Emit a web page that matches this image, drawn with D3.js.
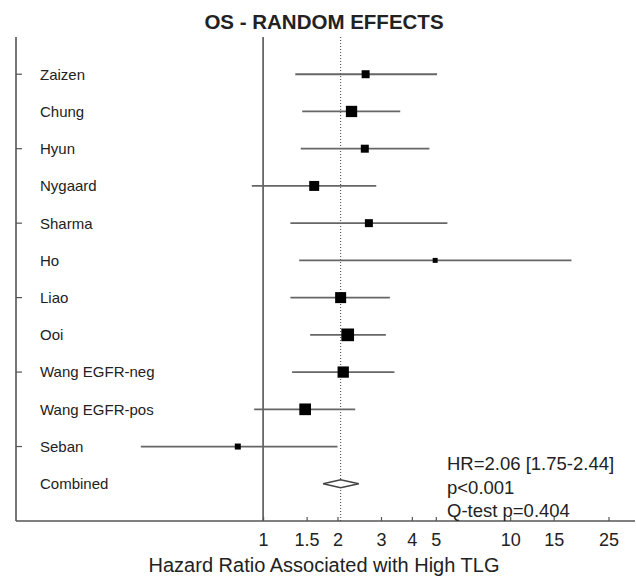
<!DOCTYPE html>
<html>
<head>
<meta charset="utf-8">
<script src="https://cdn.jsdelivr.net/npm/d3@7"></script>
<style>
  body { margin: 0; background: #fff; }
  text { font-family: "Liberation Sans", Arial, sans-serif; fill: #222; }
</style>
</head>
<body>
<div id="graph"></div>
<script>
// study data
const studies = ["Zaizen", "Chung", "Hyun", "Nygaard", "Sharma", "Ho", "Liao", "Ooi",
                 "Wang EGFR-neg", "Wang EGFR-pos", "Seban"]
const hr    = [2.60, 2.28, 2.58, 1.61, 2.68, 4.97, 2.06, 2.20, 2.11, 1.48, 0.79]
const lower = [1.35, 1.44, 1.42, 0.90, 1.29, 1.40, 1.29, 1.55, 1.31, 0.92, 0.32]
const upper = [5.06, 3.59, 4.71, 2.87, 5.57, 17.7, 3.26, 3.14, 3.40, 2.36, 2.00]
const weights = [6.2, 12.4, 6.2, 9.7, 6.2, 2.4, 11.8, 15.7, 12.4, 13.3, 3.5]

const combinedLabel = "Combined"
const combined = [2.06, 1.75, 2.44]   // hr, lower, upper

const xTicks = [1, 1.5, 2, 3, 4, 5, 10, 15, 25]
const notes = ["HR=2.06 [1.75-2.44]", "p<0.001", "Q-test p=0.404"]

const WIDTH = 636, HEIGHT = 583
const plot = {left: 16, right: 635, top: 37, bottom: 521}

let svg = d3.select("div#graph")
    .append("svg")
    .attr("width", WIDTH)
    .attr("height", HEIGHT)

let x = d3.scaleLog()
    .domain([0.1, 32])
    .range([plot.left, plot.right])

let rows = studies.concat([combinedLabel])
let y = d3.scalePoint()
    .domain(rows)
    .range([plot.top, plot.bottom])
    .padding(1)

let size = d3.scaleSqrt()
    .domain([0, d3.max(weights)])
    .range([0, 12.7])

// title
svg.append("text")
    .attr("x", 324)
    .attr("y", 28.5)
    .attr("text-anchor", "middle")
    .style("font-size", "20.5px")
    .style("font-weight", "bold")
    .text("OS - RANDOM EFFECTS")

// left axis with ticks on every other row
svg.append("line")
    .attr("x1", plot.left).attr("x2", plot.left)
    .attr("y1", plot.top).attr("y2", plot.bottom)
    .attr("stroke", "#555").attr("stroke-width", 1.6)

svg.selectAll("line.ytick")
    .data(rows.filter((d, i) => i % 2 == 0 && i < studies.length))
    .enter()
    .append("line")
    .attr("class", "ytick")
    .attr("x1", plot.left).attr("x2", plot.left + 6)
    .attr("y1", d => y(d)).attr("y2", d => y(d))
    .attr("stroke", "#555").attr("stroke-width", 1.2)

// bottom axis, ticks point inward
let xAxis = svg.append("g")
    .attr("transform", `translate(0, ${plot.bottom})`)
    .call(d3.axisBottom(x)
        .tickValues(xTicks)
        .tickSize(-4)
        .tickPadding(12)
        .tickFormat(d3.format("")))

xAxis.select(".domain")
    .attr("d", `M${plot.left},0H${plot.right}`)
    .attr("stroke", "#555").attr("stroke-width", 1.6)
xAxis.selectAll(".tick line").attr("stroke", "#555").attr("stroke-width", 1.2)
xAxis.selectAll(".tick text")
    .attr("dy", "0.71em")
    .style("font-size", "18px")
    .style("font-family", "Liberation Sans, Arial, sans-serif")
    .attr("fill", "#222")

// x axis label
svg.append("text")
    .attr("x", 324)
    .attr("y", 572)
    .attr("text-anchor", "middle")
    .style("font-size", "20px")
    .text("Hazard Ratio Associated with High TLG")

// no-effect line at HR = 1
svg.append("line")
    .attr("x1", x(1)).attr("x2", x(1))
    .attr("y1", plot.top).attr("y2", plot.bottom)
    .attr("stroke", "#555").attr("stroke-width", 1.6)

// dotted line at the combined estimate
svg.append("line")
    .attr("x1", x(combined[0])).attr("x2", x(combined[0]))
    .attr("y1", plot.top).attr("y2", plot.bottom)
    .attr("stroke", "#444").attr("stroke-width", 1)
    .attr("stroke-dasharray", "1,2")

// study labels
svg.selectAll("text.label")
    .data(rows)
    .enter()
    .append("text")
    .attr("class", "label")
    .attr("x", 40)
    .attr("y", d => y(d))
    .attr("dy", "0.36em")
    .style("font-size", "15px")
    .text(d => d)

// confidence intervals
svg.selectAll("line.ci")
    .data(studies)
    .enter()
    .append("line")
    .attr("class", "ci")
    .attr("x1", (d, i) => x(lower[i]))
    .attr("x2", (d, i) => x(upper[i]))
    .attr("y1", d => y(d)).attr("y2", d => y(d))
    .attr("stroke", "#666").attr("stroke-width", 1.8)

// point estimates, square area by weight
svg.selectAll("rect.est")
    .data(studies)
    .enter()
    .append("rect")
    .attr("class", "est")
    .attr("x", (d, i) => x(hr[i]) - size(weights[i]) / 2)
    .attr("y", (d, i) => y(d) - size(weights[i]) / 2)
    .attr("width", (d, i) => size(weights[i]))
    .attr("height", (d, i) => size(weights[i]))
    .attr("fill", "#000")

// combined diamond
let cy = y(combinedLabel)
svg.append("path")
    .attr("d", `M${x(combined[1])},${cy}L${x(combined[0])},${cy - 4}L${x(combined[2])},${cy}L${x(combined[0])},${cy + 4}Z`)
    .attr("fill", "#fff")
    .attr("stroke", "#444")
    .attr("stroke-width", 1.5)

// summary text
svg.selectAll("text.note")
    .data(notes)
    .enter()
    .append("text")
    .attr("class", "note")
    .attr("x", 447)
    .attr("y", (d, i) => 470 + i * 23.5)
    .style("font-size", "18.5px")
    .text(d => d)
</script>
</body>
</html>
